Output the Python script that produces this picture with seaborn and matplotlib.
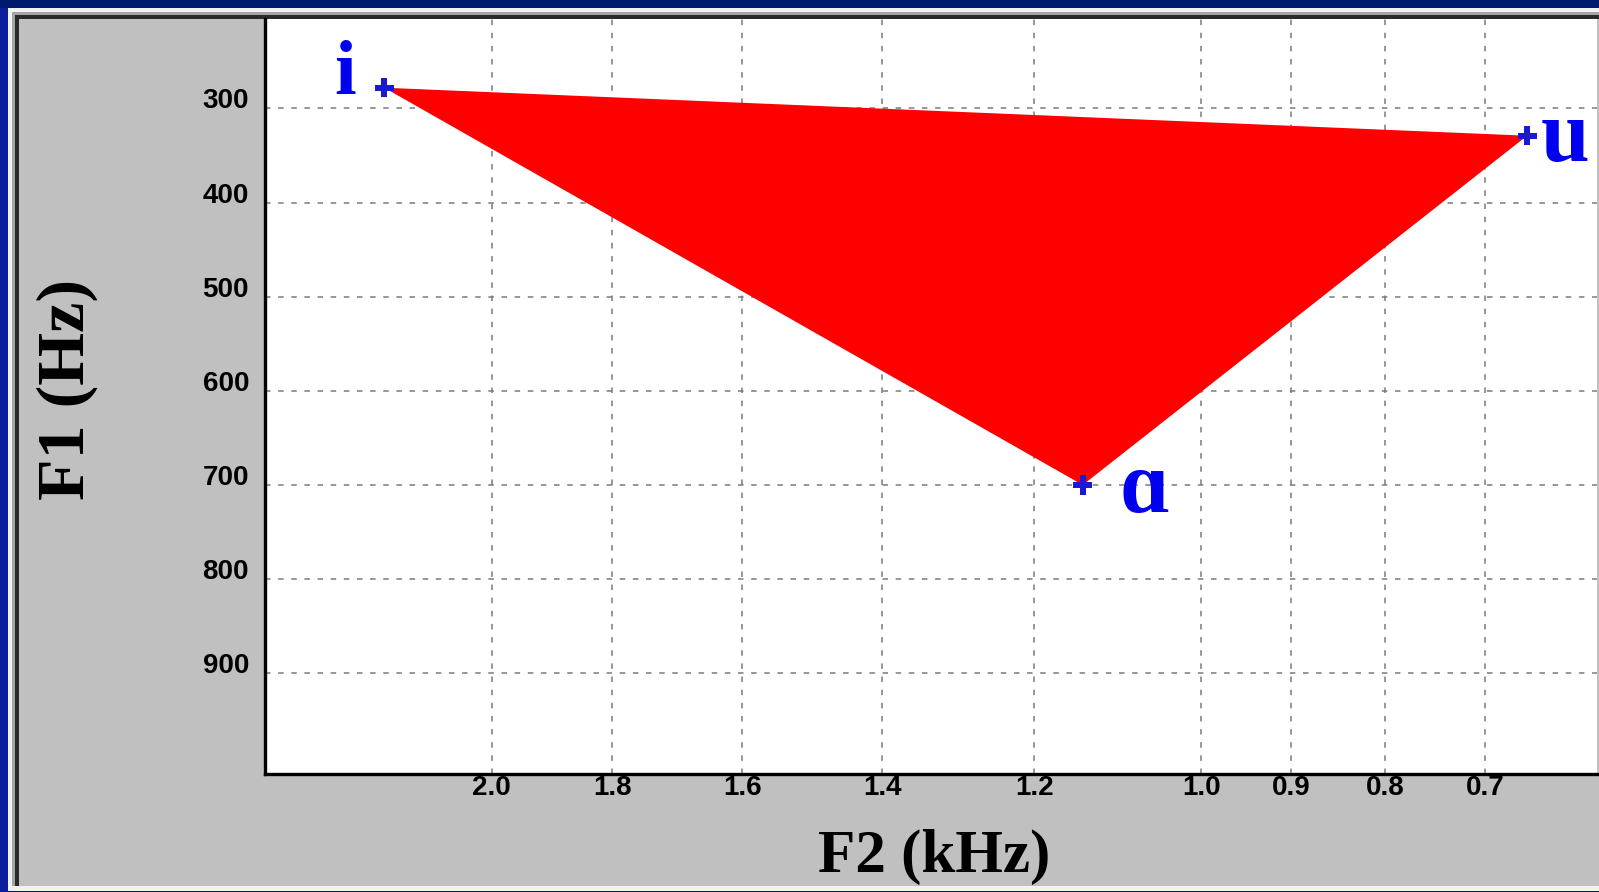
import numpy as np
import seaborn as sns
import matplotlib.pyplot as plt
from matplotlib.patches import Rectangle
from matplotlib.transforms import ScaledTranslation

# vowel triangle data (F2 in kHz, F1 in Hz)
vowels = ["i", "u", "\u0251"]
f2_khz = [2.19, 0.66, 1.14]
f1_hz = [278, 329, 700]

x_ticks = [2.0, 1.8, 1.6, 1.4, 1.2, 1.0, 0.9, 0.8, 0.7]
x_tick_labels = ["2.0", "1.8", "1.6", "1.4", "1.2", "1.0", "0.9", "0.8", "0.7"]
y_ticks = [300, 400, 500, 600, 700, 800, 900]
y_tick_labels = ["300", "400", "500", "600", "700", "800", "900"]

sns.set_theme(style="white")
plt.rcParams["font.family"] = ["Liberation Sans", "DejaVu Sans"]

W, H = 1599, 892
fig = plt.figure(figsize=(W / 100, H / 100), dpi=100, facecolor="#001a6e")


def px_rect(x0, y0, x1, y1, color, z=-5):
    # rectangle given in pixel coords (origin top-left)
    r = Rectangle((x0 / W, 1 - y1 / H), (x1 - x0) / W, (y1 - y0) / H,
                  transform=fig.transFigure, color=color, zorder=z, lw=0)
    fig.patches.append(r)


# window frame
px_rect(0, 8, 8, H, "#0a1f9c")
px_rect(8, 8, W, 891, "#f2f2f2")
px_rect(12, 12, W, 886, "#a4a4a4")
px_rect(15, 15, W, 886, "#2a2a2a")
px_rect(19, 19, W, 886, "#c0c0c0")

ax = fig.add_axes([265 / W, 1 - 774 / H, (1597 - 265) / W, (774 - 19) / H])
ax.set_facecolor("white")

# F2 axis uses a ln(1 + f) warped scale
ax.set_xscale("function", functions=(np.log1p, np.expm1))
ax.set_xlim(2.415, 0.595)
ax.set_ylim(1007, 205)

ax.set_xticks(x_ticks)
ax.set_xticklabels(x_tick_labels)
ax.set_yticks(y_ticks)
ax.set_yticklabels(y_tick_labels)
ax.minorticks_off()

ax.set_axisbelow(True)
ax.grid(True, color="#7a7a7a", linestyle=(0, (3.6, 5.0)), linewidth=1.1)

# triangle
ax.fill(f2_khz, f1_hz, color="#ff0000", lw=0, zorder=2)

# vertices
sns.scatterplot(x=f2_khz, y=f1_hz, marker="P", s=190, color="#1a1ad0",
                edgecolor="none", ax=ax, zorder=3)

# vowel labels: (dx, dy) pixel offsets, font size
label_style = {"i": (-39, -6, 56), "u": (38, -25, 63), "\u0251": (62, -27, 63)}
for v, x, y in zip(vowels, f2_khz, f1_hz):
    dx, dy, fs = label_style[v]
    ax.annotate(v, (x, y), xytext=(dx, dy), textcoords="offset pixels",
                ha="center", va="baseline", color="#0000f0", fontsize=fs,
                fontweight="bold", family=["Liberation Serif", "DejaVu Serif"],
                zorder=4, annotation_clip=False)

ax.set_xlabel("")
ax.set_ylabel("")
for s in ["top", "right"]:
    ax.spines[s].set_visible(False)
for s in ["left", "bottom"]:
    ax.spines[s].set_color("black")
    ax.spines[s].set_linewidth(2.4)

ax.tick_params(axis="both", length=0, labelsize=20, labelcolor="black")
ax.tick_params(axis="y", pad=11.5)
ax.tick_params(axis="x", pad=1)
for lab in ax.get_xticklabels() + ax.get_yticklabels():
    lab.set_fontweight("bold")
shift = ScaledTranslation(0, 0.1, fig.dpi_scale_trans)
for lab in ax.get_yticklabels():
    lab.set_transform(lab.get_transform() + shift)

fig.text(934 / W, 1 - 872 / H, "F2 (kHz)", ha="center", va="baseline", color="black",
         fontsize=44, fontweight="bold", family=["Liberation Serif", "DejaVu Serif"])
fig.text(67 / W, 1 - 389 / H, "F1 (Hz)", ha="center", va="center", rotation=90,
         color="black", fontsize=49, fontweight="bold",
         family=["Liberation Serif", "DejaVu Serif"])

fig.savefig("out.png", dpi=100, facecolor=fig.get_facecolor())
